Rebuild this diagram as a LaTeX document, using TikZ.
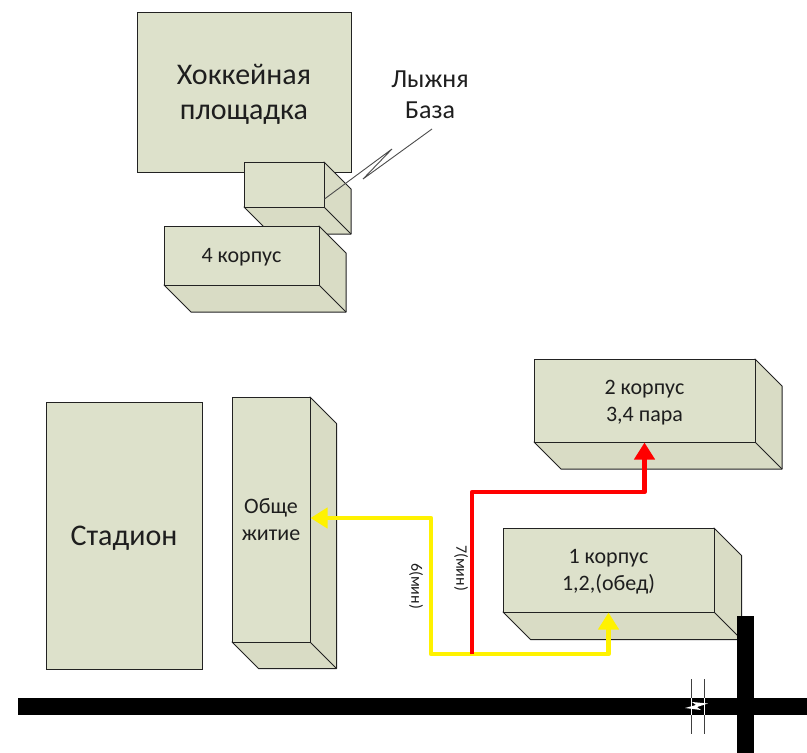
\documentclass[tikz,border=0pt]{standalone}
\usepackage{fontspec}
\setmainfont{Carlito}
\usetikzlibrary{arrows.meta}
\definecolor{faceA}{HTML}{DDE1CB}
\definecolor{faceB}{HTML}{D9DCC5}
\definecolor{edgeC}{HTML}{222222}
\definecolor{inkC}{HTML}{1E1E1E}
\tikzset{
  front/.style={draw=edgeC,fill=faceA,line width=1pt,inner sep=0pt,align=center,text=inkC,anchor=center,text depth=0pt},
  side/.style={draw=edgeC,fill=faceB,line width=1pt,line join=round},
  route/.style={line width=4.8pt,line join=round,-{Triangle[length=17pt,width=20pt]}},
  road/.style={fill=black},
  lbl/.style={text=inkC,inner sep=0pt,align=center},
  minlbl/.style={text=inkC,inner sep=0pt,rotate=-90,font=\fontsize{16}{18}\selectfont},
  breakline/.style={draw=black!75,line width=0.9pt}
}
% name, x1, y1, x2, y2, depth, font size, text
\newcommand{\blockthree}[8]{%
  \path[side] (#2,#5) -- ({#2+#6},{#5+#6}) -- ({#4+#6},{#5+#6}) -- ({#4+#6},{#3+#6}) -- (#4,#3) -- (#4,#5) -- cycle;
  \draw[side] (#4,#5) -- ({#4+#6},{#5+#6});
  \node[front,minimum width={(#4-#2)*1pt},minimum height={(#5-#3)*1pt},font=\fontsize{#7}{27}\selectfont] (#1) at ({(#2+#4)/2},{(#3+#5)/2}) {#8};
}
\begin{document}
\begin{tikzpicture}[x=1pt,y=-1pt]
\useasboundingbox (0,0) rectangle (807,753);
% flat blocks
\node[front,minimum width=214pt,minimum height=160pt,font=\fontsize{30}{35}\selectfont] (hockey) at (244,92) {Хоккейная\\площадка};
\node[front,minimum width=156pt,minimum height=267pt,font=\fontsize{30}{35}\selectfont] (stadium) at (124,535.5) {Стадион};
% cuboids
\blockthree{ski}{244}{162}{324}{207}{27}{22}{}
\blockthree{k4}{164}{226}{319}{285}{27}{22}{4 корпус}
\blockthree{k2}{534}{359}{755}{442}{27}{22}{2 корпус\\3,4 пара}
\blockthree{k1}{503}{528}{714}{612}{27.5}{22}{1 корпус\\1,2,(обед)}
\blockthree{dorm}{232}{397}{310}{642}{26.5}{22}{Обще\\житие}
% ski base label and callout
\node[lbl,font=\fontsize{26}{31}\selectfont] (skilabel) at (430,95) {Лыжня\\База};
\coordinate (zz1) at (392,149);
\coordinate (zz2) at (363,179);
\coordinate (zz3) at (432,129);
\draw[draw=black!70,line width=0.9pt] (ski.east |- 0,199) -- (zz1) -- (zz2) -- (zz3);
% routes
\coordinate (junction) at (472,654);
\coordinate (ybend) at (431,654);
\coordinate (yend) at (dorm.east |- 0,518);
\coordinate (rbend) at (472,492);
\draw[route,draw=yellow,color=yellow] (junction) -- (ybend) |- (yend);
\draw[route,draw=yellow,color=yellow] (junction) -| (k1.south);
\draw[route,draw=red,color=red] (junction) -- (rbend) -| (k2.south);
\node[minlbl] (min7) at (461,568) {7(мин)};
\node[minlbl] (min6) at (416,586) {6(мин)};
% roads
\fill[road] (18,698) rectangle (807,715);
\fill[road] (737,616) rectangle (754,753);
% road break
\draw[white,line width=1pt] (691,698) -- (691,715);
\draw[white,line width=1pt] (704,698) -- (704,715);
\fill[white] (685,708) -- (696,705) -- (692,702) -- (708,703.5) -- (697,707) -- (701,710) -- cycle;
\draw[breakline] (691,679) -- (691,698);
\draw[breakline] (691,715) -- (691,734);
\draw[breakline] (704,679) -- (704,698);
\draw[breakline] (704,715) -- (704,734);
\end{tikzpicture}
\end{document}
